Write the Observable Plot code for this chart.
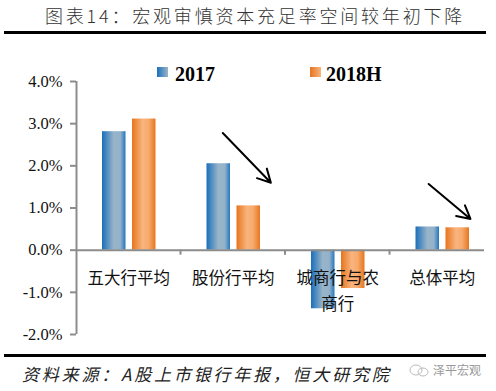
<!DOCTYPE html>
<html><head><meta charset="utf-8">
<script src="https://cdn.jsdelivr.net/npm/d3@7"></script>
<script src="https://cdn.jsdelivr.net/npm/@observablehq/plot@0.6"></script>
<style>
body{margin:0;background:#fff;}
#wrap{position:relative;width:496px;height:391px;overflow:hidden;background:#fff;}
#title{position:absolute;left:45px;top:3px;white-space:nowrap;font-family:"Noto Sans CJK SC",sans-serif;font-weight:300;font-size:18px;line-height:24px;letter-spacing:2.8px;color:#333;}
.rule{position:absolute;left:4px;width:482px;height:3px;background:#000;}
#chart{position:absolute;left:0;top:34px;}
.leg{position:absolute;top:64px;font-family:"Liberation Serif","Times New Roman",serif;font-weight:bold;font-size:20px;line-height:20px;color:#000;}
.sw{position:absolute;top:67px;width:11px;height:10px;}
#caption{position:absolute;left:22px;top:362px;white-space:nowrap;font-family:"Noto Sans CJK SC",sans-serif;font-style:italic;font-size:17px;line-height:24px;letter-spacing:2.8px;color:#222;}
#logo{position:absolute;left:433px;top:362px;font-family:"Noto Sans CJK SC",sans-serif;font-size:12px;line-height:16px;color:#999;}
#icon{position:absolute;left:408px;top:362px;}
</style></head><body>
<div id="wrap">
  <div id="title">图表14：宏观审慎资本充足率空间较年初下降</div>
  <div class="rule" style="top:31px"></div>
  <div id="chart"></div>
  <div class="sw" style="left:157px;background:linear-gradient(90deg,#1a70bb,#9bb5c8)"></div>
  <div class="leg" style="left:175px">2017</div>
  <div class="sw" style="left:310px;background:linear-gradient(90deg,#e57420,#f9b47c)"></div>
  <div class="leg" style="left:326px">2018H</div>
  <div class="rule" style="top:354px"></div>
  <div id="caption">资料来源：A股上市银行年报，恒大研究院</div>
  <svg id="icon" width="22" height="16"><ellipse cx="8" cy="8" rx="6" ry="5" fill="none" stroke="#bbb"/><ellipse cx="15" cy="10" rx="5" ry="4" fill="none" stroke="#bbb"/></svg>
  <div id="logo">泽平宏观</div>
</div>
<script>
const categories = ["五大行平均", "股份行平均", "城商行与农商行", "总体平均"];
const tickLabels = ["五大行平均", "股份行平均", "城商行与农\n商行", "总体平均"];
const seriesNames = ["2017", "2018H"];
const values2017 = [0.0281, 0.0205, -0.0139, 0.0055];
const values2018H = [0.0311, 0.0105, -0.0091, 0.0053];
const yTicks = [-0.02, -0.01, 0, 0.01, 0.02, 0.03, 0.04];
// annotation arrows, x in category-index units, y in value units
const arrows = [
  {x1: 1.40, y1: 0.0278, x2: 1.86, y2: 0.0160},
  {x1: 3.37, y1: 0.0157, x2: 3.77, y2: 0.0074}
];

const rows2017 = categories.map((c, i) => ({cat: c, i, value: values2017[i]}));
const rows2018 = categories.map((c, i) => ({cat: c, i, value: values2018H[i]}));
const labelRows = categories.map((c, i) => ({i, label: tickLabels[i]}));
const gray = "#8c8c8c";
const pct = d => (d * 100).toFixed(1) + "%";

const plot = Plot.plot({
  width: 496,
  height: 320,
  marginLeft: 76,
  marginRight: 2,
  marginTop: 47,
  marginBottom: 20,
  style: {background: "transparent", overflow: "visible"},
  x: {domain: [0, categories.length], axis: null},
  y: {domain: [-0.02, 0.04], axis: null},
  marks: [
    Plot.rectY(rows2017, {x1: d => d.i, x2: d => d.i + 1, y1: 0, y2: d => d.value, insetLeft: 26, insetRight: 55, fill: "url(#gBlue)"}),
    Plot.rectY(rows2018, {x1: d => d.i, x2: d => d.i + 1, y1: 0, y2: d => d.value, insetLeft: 56, insetRight: 25, fill: "url(#gOrange)"}),
    Plot.ruleY([0], {stroke: gray, strokeWidth: 2, insetRight: 10}),
    Plot.ruleX([0], {y1: yTicks[0], y2: yTicks[yTicks.length - 1], stroke: gray, strokeWidth: 2}),
    Plot.ruleY(yTicks, {y: d => d, x1: () => 0, x2: () => 0, insetLeft: -6, stroke: gray, strokeWidth: 2}),
    Plot.text(yTicks, {x: () => 0, y: d => d, text: pct, textAnchor: "end", dx: -14, fontSize: 16.5,
      fontFamily: "Liberation Serif, Times New Roman, serif", fill: "#111"}),
    (index, scales) => {
      const g = d3.create("svg:g");
      for (let k = 1; k < categories.length; k++) {
        g.append("line").attr("x1", scales.x(k)).attr("x2", scales.x(k))
          .attr("y1", scales.y(0)).attr("y2", scales.y(0) + 5)
          .attr("stroke", gray).attr("stroke-width", 2);
      }
      return g.node();
    },
    Plot.text(labelRows, {x: d => d.i + 0.5, y: () => 0, text: "label", lineAnchor: "top", dy: 16, lineHeight: 1.55,
      fontSize: 16.5, fontFamily: "Noto Sans CJK SC", fill: "#111", style: "letter-spacing:1.6px"}),
    Plot.arrow(arrows, {x1: "x1", y1: "y1", x2: "x2", y2: "y2", stroke: "#000", strokeWidth: 2, headLength: 11, headAngle: 56})
  ]
});

const defs = d3.select(plot).insert("defs", ":first-child");
const gb = defs.append("linearGradient").attr("id", "gBlue").attr("x1", 0).attr("x2", 1).attr("y1", 0).attr("y2", 0);
[[0, "#1a6fba"], [0.5, "#98b4c9"], [0.78, "#93b2ca"], [1, "#2377bf"]].forEach(([o, c]) => gb.append("stop").attr("offset", o).attr("stop-color", c));
const go = defs.append("linearGradient").attr("id", "gOrange").attr("x1", 0).attr("x2", 1).attr("y1", 0).attr("y2", 0);
[[0, "#e6741e"], [0.45, "#f9b47d"], [0.7, "#f7ab6e"], [1, "#e6761f"]].forEach(([o, c]) => go.append("stop").attr("offset", o).attr("stop-color", c));

document.getElementById("chart").appendChild(plot);
</script>
</body></html>
